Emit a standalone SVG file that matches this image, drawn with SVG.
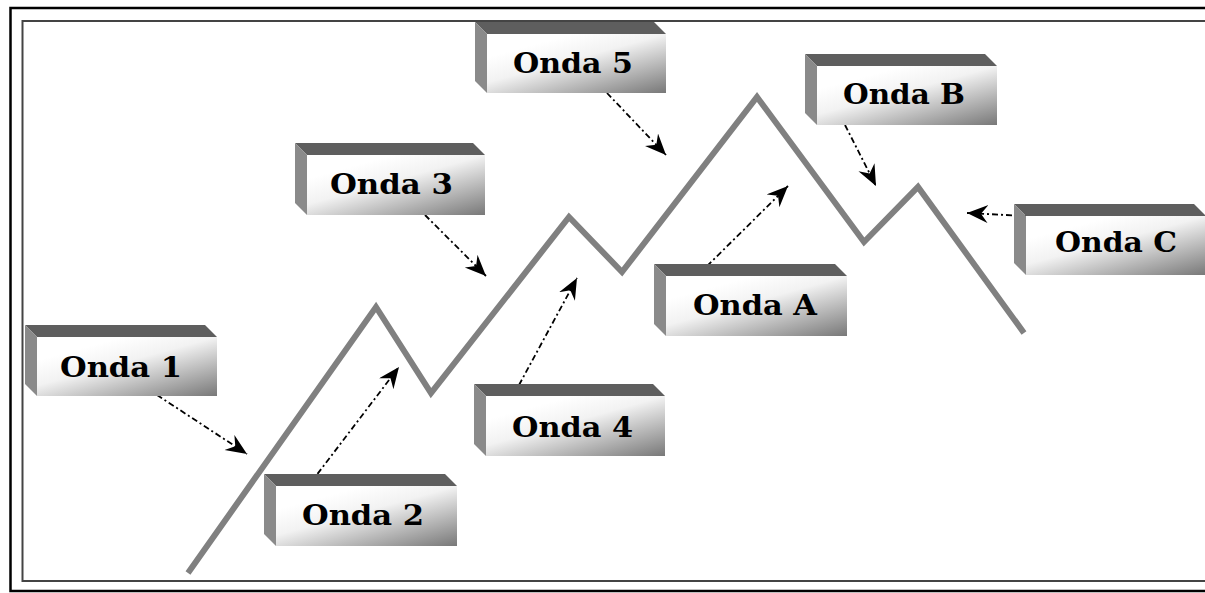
<svg xmlns="http://www.w3.org/2000/svg" width="1205" height="593" viewBox="0 0 1205 593">
<style>
.top{fill:#5e5e5e}
.side{fill:#8a8a8a}
.front{fill:url(#fg)}
.lbl{font-family:"DejaVu Serif","Liberation Serif",serif;font-weight:bold;font-size:28.5px;fill:#000}
.wave{fill:none;stroke:#808080;stroke-width:6;stroke-linejoin:miter;stroke-miterlimit:10}
.arr{fill:none;stroke:#000;stroke-width:1.8;stroke-dasharray:6 3 2 3;marker-end:url(#ah)}
</style>
<defs>
<linearGradient id="fg" x1="0.3" y1="0.15" x2="1" y2="1">
<stop offset="0" stop-color="#ffffff"/>
<stop offset="0.3" stop-color="#f2f2f2"/>
<stop offset="1" stop-color="#787878"/>
</linearGradient>
<marker id="ah" markerUnits="userSpaceOnUse" markerWidth="24" markerHeight="20" refX="21" refY="9" orient="auto">
<path d="M21,9 L0,0 L7,9 L0,18 Z" fill="#000"/>
</marker>
</defs>
<rect x="0" y="0" width="1205" height="593" fill="#fff"/>
<rect x="10.5" y="8" width="1210" height="583" fill="none" stroke="#000" stroke-width="2.5"/>
<rect x="22.5" y="21" width="1200" height="560" fill="none" stroke="#444" stroke-width="2"/>
<polyline class="wave" points="188,573 376,307 431,393 569,217 622,272 757,97 864,242 918,187 1024,333"/>
<g id="connectors">
<line class="arr" x1="157" y1="395" x2="247" y2="454"/>
<line class="arr" x1="309" y1="485" x2="399" y2="367"/>
<line class="arr" x1="425" y1="215" x2="486" y2="276"/>
<line class="arr" x1="519" y1="385" x2="577" y2="278"/>
<line class="arr" x1="607" y1="93" x2="666" y2="155"/>
<line class="arr" x1="697" y1="276" x2="788" y2="186"/>
<line class="arr" x1="845" y1="125" x2="876" y2="186"/>
<line class="arr" x1="1026" y1="216" x2="967" y2="213"/>
</g>
<g id="onda1">
<polygon class="top" points="25,325 205,325 217,337 37,337"/>
<polygon class="side" points="25,325 37,337 37,396 25,384"/>
<rect class="front" x="37" y="337" width="180" height="59"/>
<text class="lbl" x="60" y="377" textLength="122" lengthAdjust="spacingAndGlyphs">Onda 1</text>
</g>
<g id="onda2">
<polygon class="top" points="264,474 445,474 457,486 276,486"/>
<polygon class="side" points="264,474 276,486 276,546 264,534"/>
<rect class="front" x="276" y="486" width="181" height="60"/>
<text class="lbl" x="302" y="525" textLength="122" lengthAdjust="spacingAndGlyphs">Onda 2</text>
</g>
<g id="onda3">
<polygon class="top" points="295,143 473,143 485,155 307,155"/>
<polygon class="side" points="295,143 307,155 307,215 295,203"/>
<rect class="front" x="307" y="155" width="178" height="60"/>
<text class="lbl" x="330" y="194" textLength="123" lengthAdjust="spacingAndGlyphs">Onda 3</text>
</g>
<g id="onda4">
<polygon class="top" points="474,384 653,384 665,396 486,396"/>
<polygon class="side" points="474,384 486,396 486,456 474,444"/>
<rect class="front" x="486" y="396" width="179" height="60"/>
<text class="lbl" x="512" y="437" textLength="121" lengthAdjust="spacingAndGlyphs">Onda 4</text>
</g>
<g id="onda5">
<polygon class="top" points="475,22 654,22 666,34 487,34"/>
<polygon class="side" points="475,22 487,34 487,93 475,81"/>
<rect class="front" x="487" y="34" width="179" height="59"/>
<text class="lbl" x="513" y="73" textLength="120" lengthAdjust="spacingAndGlyphs">Onda 5</text>
</g>
<g id="ondaA">
<polygon class="top" points="654,264 835,264 847,276 666,276"/>
<polygon class="side" points="654,264 666,276 666,336 654,324"/>
<rect class="front" x="666" y="276" width="181" height="60"/>
<text class="lbl" x="693" y="315" textLength="124" lengthAdjust="spacingAndGlyphs">Onda A</text>
</g>
<g id="ondaB">
<polygon class="top" points="805,54 985,54 997,66 817,66"/>
<polygon class="side" points="805,54 817,66 817,125 805,113"/>
<rect class="front" x="817" y="66" width="180" height="59"/>
<text class="lbl" x="843" y="104" textLength="122" lengthAdjust="spacingAndGlyphs">Onda B</text>
</g>
<g id="ondaC">
<polygon class="top" points="1014,204 1194,204 1206,216 1026,216"/>
<polygon class="side" points="1014,204 1026,216 1026,275 1014,263"/>
<rect class="front" x="1026" y="216" width="180" height="59"/>
<text class="lbl" x="1055" y="252" textLength="122" lengthAdjust="spacingAndGlyphs">Onda C</text>
</g>
</svg>
